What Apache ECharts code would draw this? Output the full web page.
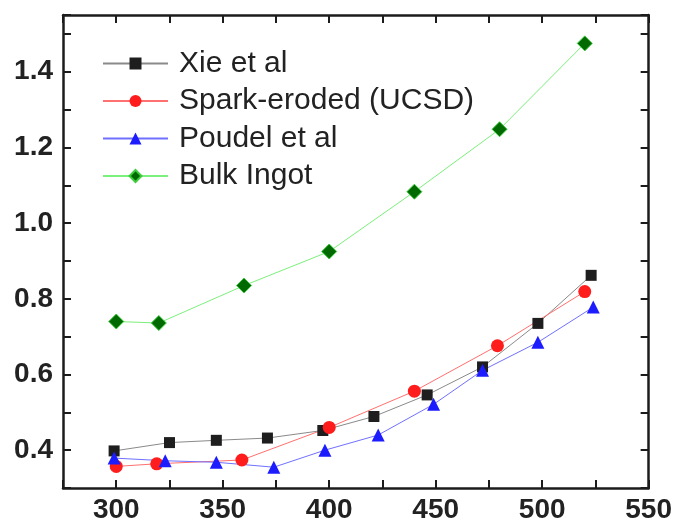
<!DOCTYPE html>
<html>
<head>
<meta charset="utf-8">
<script src="https://cdn.jsdelivr.net/npm/echarts@6/dist/echarts.min.js"></script>
<style>
  html, body { margin: 0; padding: 0; background: #ffffff; }
  #chart { width: 675px; height: 525px; }
</style>
</head>
<body>
<div id="chart"></div>
<script>
// Temperature (x) and measured value (y) for each sample set
const seriesNames = ['Xie et al', 'Spark-eroded (UCSD)', 'Poudel et al', 'Bulk Ingot'];

const xieT = [299, 325, 347, 371, 397, 421, 446, 472, 498, 523];
const xieV = [0.398, 0.420, 0.426, 0.432, 0.452, 0.489, 0.546, 0.620, 0.735, 0.862];

const sparkT = [300, 319, 359, 400, 440, 479, 520];
const sparkV = [0.357, 0.364, 0.374, 0.460, 0.556, 0.676, 0.819];

const poudelT = [299, 323, 347, 374, 398, 423, 449, 472, 498, 524];
const poudelV = [0.379, 0.372, 0.368, 0.355, 0.400, 0.440, 0.521, 0.611, 0.685, 0.778];

const bulkT = [300, 320, 360, 400, 440, 480, 520];
const bulkV = [0.740, 0.736, 0.835, 0.925, 1.083, 1.248, 1.475];

// Axis ranges and labelled ticks
const xMin = 275, xMax = 550, xStep = 25;
const xLabels = [300, 350, 400, 450, 500, 550];
const yMin = 0.3, yMax = 1.55, yStep = 0.1;
const yLabels = ['0.4', '0.6', '0.8', '1.0', '1.2', '1.4'];

const zip = (xs, ys) => xs.map((x, i) => [x, ys[i]]);

const FONT = '"Liberation Sans", Arial, sans-serif';
const AXIS_COLOR = '#1c1c1c';

const axisLine = { show: true, onZero: false, lineStyle: { color: AXIS_COLOR, width: 2.5 } };
const axisTick = { show: true, inside: true, length: 8, lineStyle: { color: AXIS_COLOR, width: 2 } };

function xFmt(v) {
  return xLabels.indexOf(Math.round(v)) >= 0 ? String(Math.round(v)) : '';
}
function yFmt(v) {
  const s = (Math.round(v * 100) / 100).toFixed(1);
  return (Math.abs(v - parseFloat(s)) < 1e-6 && yLabels.indexOf(s) >= 0) ? s : '';
}

function lineSeries(name, xs, ys, symbol, size, lineColor, fill, border) {
  return {
    name: name,
    type: 'line',
    data: zip(xs, ys),
    symbol: symbol,
    symbolSize: size,
    showAllSymbol: true,
    lineStyle: { color: lineColor, width: 1 },
    itemStyle: { color: fill, borderColor: border || fill, borderWidth: border ? 1 : 0 },
    emphasis: { disabled: true },
    animation: false
  };
}

const chart = echarts.init(document.getElementById('chart'), null, { renderer: 'canvas' });

chart.setOption({
  backgroundColor: '#ffffff',
  animation: false,
  grid: { left: 63, right: 25, top: 15, bottom: 37, containLabel: false },
  legend: {
    orient: 'vertical',
    left: 102,
    top: 48,
    itemWidth: 65,
    itemHeight: 15,
    itemGap: 6.5,
    padding: 0,
    selectedMode: false,
    data: seriesNames,
    textStyle: {
      fontFamily: FONT,
      fontSize: 30,
      lineHeight: 31,
      color: '#222222',
      padding: [0, 0, 0, 6]
    }
  },
  xAxis: [
    {
      type: 'value', position: 'bottom',
      min: xMin, max: xMax, interval: xStep,
      axisLine: axisLine, axisTick: axisTick, splitLine: { show: false },
      axisLabel: {
        show: true, margin: 8, formatter: xFmt,
        fontFamily: FONT, fontSize: 28, fontWeight: 'bold', color: '#222222'
      }
    },
    {
      type: 'value', position: 'top',
      min: xMin, max: xMax, interval: xStep,
      axisLine: axisLine, axisTick: axisTick, splitLine: { show: false },
      axisLabel: { show: false }
    }
  ],
  yAxis: [
    {
      type: 'value', position: 'left',
      min: yMin, max: yMax, interval: yStep,
      axisLine: axisLine, axisTick: axisTick, splitLine: { show: false },
      axisLabel: {
        show: true, margin: 10, formatter: yFmt,
        fontFamily: FONT, fontSize: 28, fontWeight: 'bold', color: '#222222'
      }
    },
    {
      type: 'value', position: 'right',
      min: yMin, max: yMax, interval: yStep,
      axisLine: axisLine, axisTick: axisTick, splitLine: { show: false },
      axisLabel: { show: false }
    }
  ],
  series: [
    lineSeries(seriesNames[0], xieT, xieV, 'rect', 11, '#8a8a8a', '#1e1e1e'),
    lineSeries(seriesNames[1], sparkT, sparkV, 'circle', 13, '#ff7070', '#ff1c1c'),
    lineSeries(seriesNames[2], poudelT, poudelV, 'triangle', 13, '#7070ff', '#1c1cff'),
    lineSeries(seriesNames[3], bulkT, bulkV, 'diamond', 15, '#7cf07c', '#006a00', '#3ccc3c')
  ]
});
</script>
</body>
</html>
